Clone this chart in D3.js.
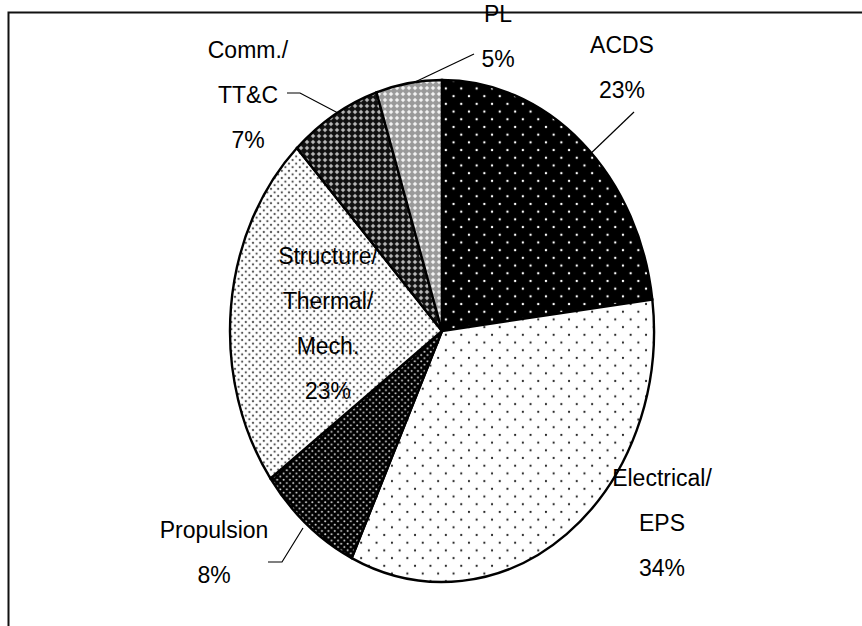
<!DOCTYPE html>
<html lang="en">
<head>
<meta charset="utf-8">
<title>subsystem share pie</title>
<script src="https://cdn.jsdelivr.net/npm/d3@7"></script>
<style>
  body { margin: 0; background: #fff; }
  svg text { font-family: "Liberation Sans", Arial, sans-serif; font-size: 23px; fill: #000; }
  .slice { stroke: #000; stroke-width: 2.4px; }
  .leader { stroke: #000; stroke-width: 1.2px; fill: none; }
</style>
</head>
<body>
<svg width="862" height="626"></svg>
<script>
// data, clockwise from 12 o'clock
var categories = ["ACDS", "Electrical/EPS", "Propulsion", "Structure/Thermal/Mech.", "Comm./TT&C", "PL"];
var values = [23, 34, 8, 23, 7, 5];
var labelLines = [["ACDS", "23%"], ["Electrical/", "EPS", "34%"], ["Propulsion", "8%"],
                  ["Structure/", "Thermal/", "Mech.", "23%"], ["Comm./", "TT&C", "7%"], ["PL", "5%"]];

// layout
var cx = 442, cy = 331, rx = 212, ry = 251;
var lineH = 45;
// label anchor (center of first line) and leader line for each slice
var labelPos = [[622, 45], [662, 478], [214, 530], [328, 256], [248, 50], [498, 14]];
var leaders = [
  [[586, 158], [634, 112]],
  null,
  [[268, 562], [282, 562], [303, 528]],
  null,
  [[287, 93], [300, 93], [338, 113]],
  [[415, 82], [474, 54]]
];

var svg = d3.select("svg");
var defs = svg.append("defs");
var sx = rx / ry;

// fill patterns (undo the horizontal pie scaling so dots stay round)
function dotPattern(id, size, bg, dot, r) {
  var p = defs.append("pattern").attr("id", id)
    .attr("patternUnits", "userSpaceOnUse")
    .attr("width", size).attr("height", size)
    .attr("patternTransform", "scale(" + (1 / sx) + ",1)");
  p.append("rect").attr("width", size).attr("height", size).attr("fill", bg);
  [[size / 4, size / 4], [size * 3 / 4, size * 3 / 4]].forEach(function(c) {
    p.append("circle").attr("cx", c[0]).attr("cy", c[1]).attr("r", r).attr("fill", dot);
  });
}
dotPattern("p0", 15.4, "#000", "#fff", 1.2);
dotPattern("p1", 15.4, "#fff", "#222", 1.1);
dotPattern("p2", 6.4, "#000", "#ddd", 1.0);
dotPattern("p3", 7.2, "#fff", "#555", 1.15);

function checkPattern(id, bg, mid, light) {
  var p = defs.append("pattern").attr("id", id)
    .attr("patternUnits", "userSpaceOnUse")
    .attr("width", 6).attr("height", 6)
    .attr("patternTransform", "scale(" + (1 / sx) + ",1)");
  p.append("rect").attr("width", 6).attr("height", 6).attr("fill", bg);
  p.append("path").attr("d", "M3,0.5L5.5,3L3,5.5L0.5,3Z").attr("fill", mid);
  p.append("rect").attr("x", 2.5).attr("y", 1.5).attr("width", 1).attr("height", 3).attr("fill", light);
  p.append("rect").attr("x", 1.5).attr("y", 2.5).attr("width", 3).attr("height", 1).attr("fill", light);
}
checkPattern("p4", "#111", "#777", "#ccc");
checkPattern("p5", "#999", "#ccc", "#fff");

// frame
svg.append("rect").attr("x", 8.5).attr("y", 12.5).attr("width", 900).attr("height", 700)
  .attr("fill", "none").attr("stroke", "#111").attr("stroke-width", 2);

var pie = d3.pie().sort(null).value(function(d) { return d; });
var arc = d3.arc().innerRadius(0).outerRadius(ry);
var arcs = pie(values);

var g = svg.append("g").attr("transform", "translate(" + cx + "," + cy + ") scale(" + sx + ",1)");
g.selectAll("path").data(arcs).enter().append("path")
  .attr("class", "slice")
  .attr("d", arc)
  .attr("vector-effect", "non-scaling-stroke")
  .attr("fill", function(d, i) { return "url(#p" + i + ")"; });

// leader lines
var line = d3.line();
leaders.forEach(function(pts) {
  if (pts) svg.append("path").attr("class", "leader").attr("d", line(pts));
});

// labels
labelLines.forEach(function(lines, i) {
  var t = svg.append("text").attr("text-anchor", "middle")
    .attr("x", labelPos[i][0]).attr("y", labelPos[i][1]);
  lines.forEach(function(s, j) {
    t.append("tspan").attr("x", labelPos[i][0]).attr("dy", j === 0 ? "0.35em" : lineH).text(s);
  });
});
</script>
</body>
</html>
